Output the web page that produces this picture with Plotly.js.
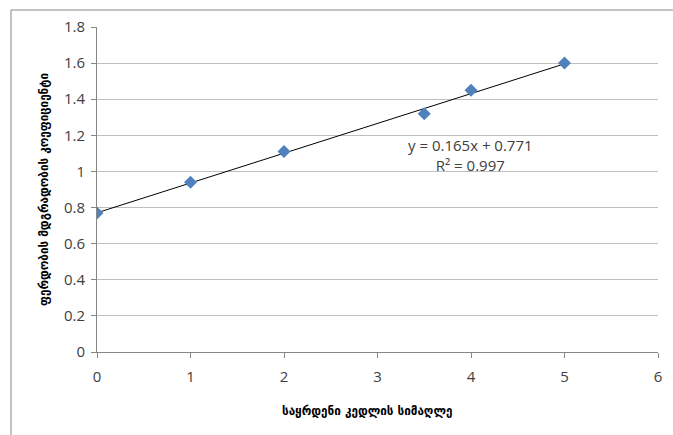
<!DOCTYPE html>
<html><head><meta charset="utf-8">
<script src="https://cdn.plot.ly/plotly-3.0.1.min.js"></script>
<style>html,body{margin:0;padding:0;background:#fff}#chart{width:673px;height:435px}</style>
</head><body><div id="chart"></div>
<script>
const xValues = [0, 1, 2, 3.5, 4, 5];
const yValues = [0.77, 0.94, 1.11, 1.32, 1.45, 1.60];
const slope = 0.165, intercept = 0.771;
const trendX = [0, 5];
const trendY = trendX.map(x => slope * x + intercept);
const eqText = "y = 0.165x + 0.771<br>R² = 0.997";
const xTitle = "საყრდენი კედლის სიმაღლე";
const yTitle = "ფერდობის მდგრადობის კოეფიციენტი";

const data = [
  {x: trendX, y: trendY, mode: 'lines', line: {color: '#000', width: 1}, hoverinfo: 'skip', showlegend: false},
  {x: xValues, y: yValues, mode: 'markers', marker: {symbol: 'diamond', size: 10, color: '#4F81BD'}, showlegend: false}
];
const titleFont = {family: 'DejaVu Sans Condensed, DejaVu Sans', size: 13, color: '#000', weight: 'bold'};
const layout = {
  width: 673, height: 435,
  margin: {l: 97, r: 15, t: 27, b: 83},
  paper_bgcolor: '#fff', plot_bgcolor: '#fff',
  font: {family: 'Open Sans, Liberation Sans, sans-serif', size: 15, color: '#404040'},
  xaxis: {range: [0, 6], dtick: 1, tick0: 0, showgrid: false, zeroline: false,
    showline: true, linecolor: '#868686', linewidth: 1,
    ticks: 'outside', ticklen: 5, tickcolor: '#868686', ticklabelstandoff: 6,
    tickfont: {size: 15, color: '#404040'}},
  yaxis: {range: [0, 1.8], dtick: 0.2, tick0: 0, showgrid: true, gridcolor: '#BFBFBF', zeroline: false,
    showline: true, linecolor: '#868686', linewidth: 1,
    ticks: 'outside', ticklen: 5, tickcolor: '#868686', ticklabelstandoff: 3,
    tickfont: {size: 15, color: '#404040'},
    title: {text: yTitle, font: titleFont, standoff: 12}},
  annotations: [
    {x: 3.99, y: 1.09, xref: 'x', yref: 'y', text: eqText, showarrow: false,
     font: {family: 'Open Sans, sans-serif', size: 15, color: '#404040'}, align: 'center', xanchor: 'center', yanchor: 'middle'},
    {x: (367 - 97) / 561, y: -0.179, xref: 'paper', yref: 'paper', text: xTitle, showarrow: false,
     font: titleFont, xanchor: 'center', yanchor: 'middle'}
  ],
  shapes: [{type: 'rect', xref: 'paper', yref: 'paper', x0: -0.1533, x1: 2, y0: -1, y1: 1.0523,
    line: {color: '#868686', width: 1}, fillcolor: 'rgba(0,0,0,0)', layer: 'below'}]
};
Plotly.newPlot('chart', data, layout, {displayModeBar: false, staticPlot: true});
</script></body></html>
